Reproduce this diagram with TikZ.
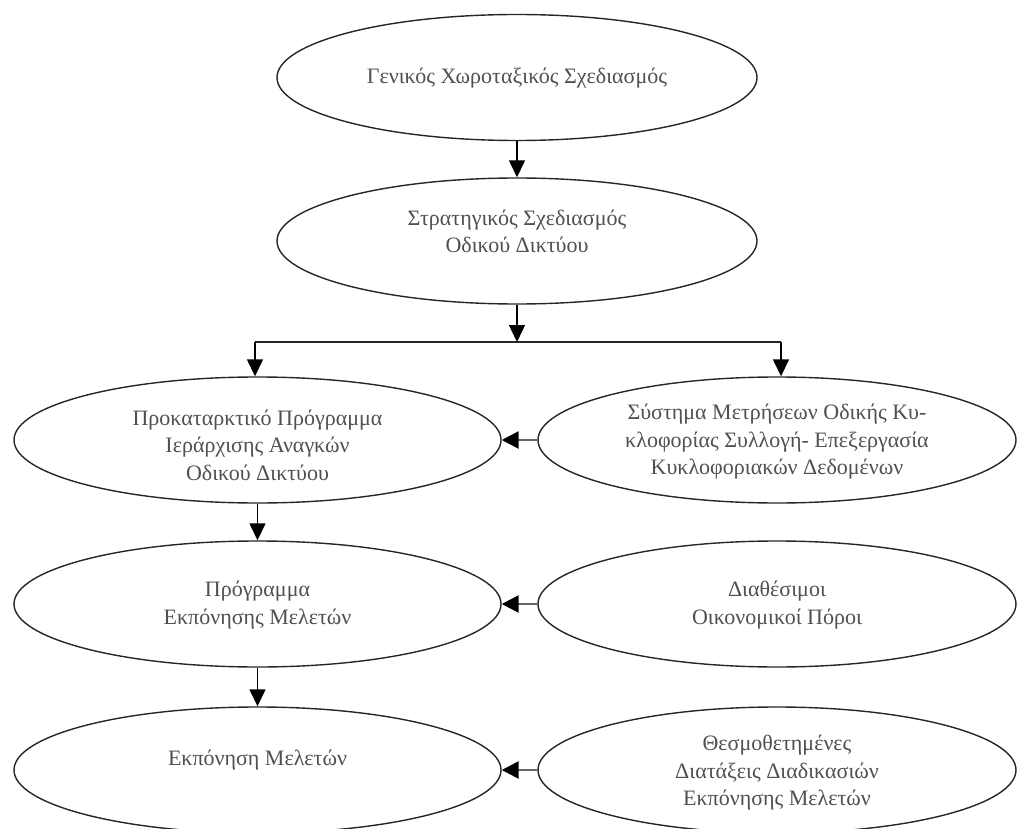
\documentclass[tikz,border=0pt]{standalone}
\usepackage{fontspec}
\setmainfont{Liberation Serif}
\usetikzlibrary{arrows.meta,shapes.geometric}
\definecolor{txtgray}{HTML}{505050}
\tikzset{
  ell/.style={draw=black!85, line width=1.4pt, ellipse, inner sep=0pt, minimum height=126pt},
  txt/.style={align=center, text=txtgray, font=\fontsize{22pt}{27.5pt}\selectfont, inner sep=0pt},
  arr/.style={draw=black, line width=1.4pt, -{Triangle[length=17pt,width=16pt]}},
  harr/.style={draw=black!60, line width=2.6pt, -{Triangle[length=17pt,width=17pt,fill=black,color=black]}},
  plain/.style={draw=black!85, line width=1.4pt}
}
\begin{document}
\begin{tikzpicture}[x=1pt,y=-1pt]
\useasboundingbox (0,0) rectangle (1017,829);
\clip (0,0) rectangle (1017,829);
\node[ell, minimum width=480pt] (n1) at (517,77.5) {};
\node[ell, minimum width=480pt] (n2) at (517,241) {};
\node[ell, minimum width=487pt] (n3) at (257.5,440) {};
\node[ell, minimum width=478pt] (n4) at (777,440) {};
\node[ell, minimum width=487pt] (n5) at (257.5,604) {};
\node[ell, minimum width=478pt] (n6) at (777,604) {};
\node[ell, minimum width=487pt] (n7) at (257.5,770) {};
\node[ell, minimum width=478pt] (n8) at (777,770) {};
\node[txt] (t1) at ([yshift=-1pt]n1.center) {Γενικός Χωροταξικός Σχεδιασμός};
\node[txt] (t2) at ([yshift=9.5pt]n2.center) {Στρατηγικός Σχεδιασμός\\Οδικού Δικτύου};
\node[txt] (t3) at ([yshift=-5pt]n3.center) {Προκαταρκτικό Πρόγραμμα\\Ιεράρχισης Αναγκών\\Οδικού Δικτύου};
\node[txt] (t4) at ([yshift=-2pt]n4.center) {Σύστημα Μετρήσεων Οδικής Κυ-\\κλοφορίας Συλλογή- Επεξεργασία\\Κυκλοφοριακών Δεδομένων};
\node[txt] (t5) at ([yshift=-1pt]n5.center) {Πρόγραμμα\\Εκπόνησης Μελετών};
\node[txt] (t6) at ([yshift=-1pt]n6.center) {Διαθέσιμοι\\Οικονομικοί Πόροι};
\node[txt] (t7) at ([yshift=10pt]n7.center) {Εκπόνηση Μελετών};
\node[txt] (t8) at ([yshift=-3pt]n8.center) {Θεσμοθετημένες\\Διατάξεις Διαδικασιών\\Εκπόνησης Μελετών};
\coordinate (jm) at (517,342);
\coordinate (jl) at (255,342);
\coordinate (jr) at (781,342);
\draw[arr] (n1) -- (n2);
\draw[arr] (n2) -- (jm);
\draw[plain] (jl) -- (jr);
\draw[arr] (jl) -- (jl |- n3.north);
\draw[arr] (jr) -- (jr |- n4.north);
\draw[arr] (n3) -- (n5);
\draw[arr] (n5) -- (n7);
\draw[harr] (n4) -- (n3);
\draw[harr] (n6) -- (n5);
\draw[harr] (n8) -- (n7);
\end{tikzpicture}
\end{document}
